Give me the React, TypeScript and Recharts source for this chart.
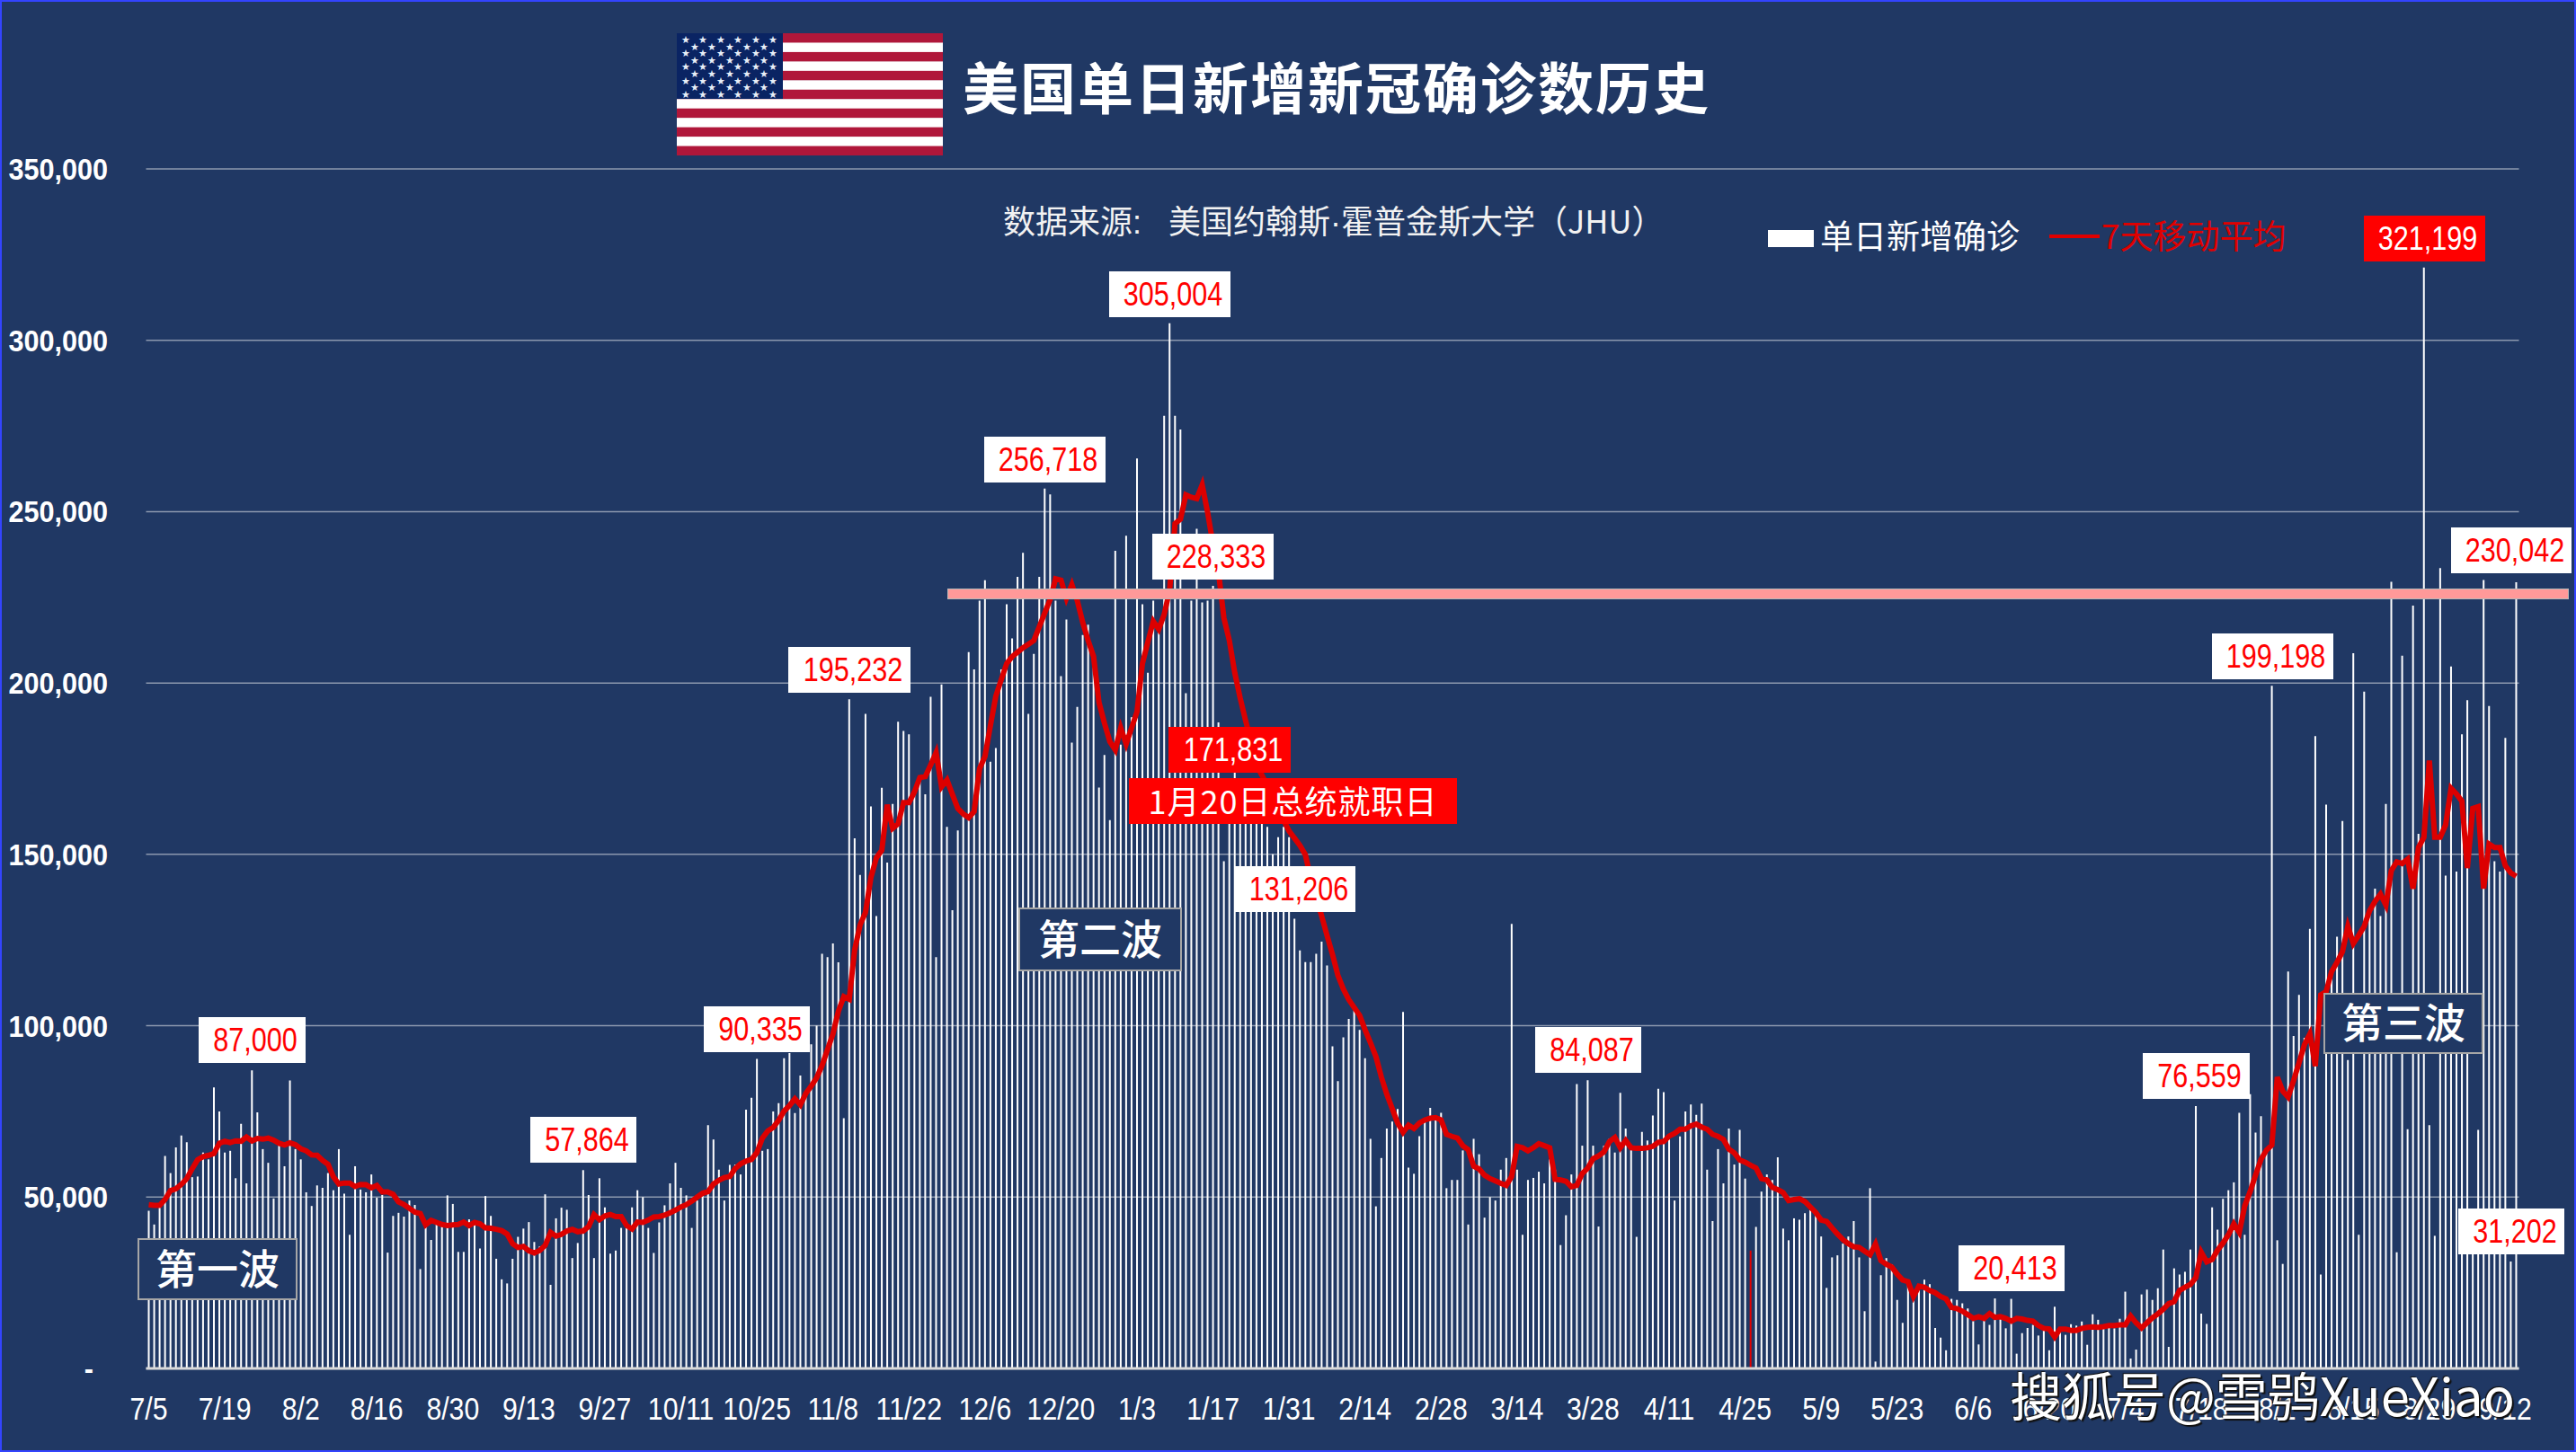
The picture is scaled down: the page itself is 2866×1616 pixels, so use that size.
import { Bar, CartesianGrid, Cell, ComposedChart, Line, XAxis, YAxis } from 'recharts';

// Values, in thousands of cases per day
const dailyK = [
  46, 42, 47, 62, 57, 64.5, 68, 66, 55.8, 56, 63, 61, 82, 75, 63, 63.5, 55.5, 71.4, 54, 87,
  74.7, 64, 60, 49.6, 65, 59, 84, 64, 61, 51.4, 47.4, 53.4, 52.7, 57, 52, 64, 51, 39, 59, 52.2,
  51.4, 56.6, 49.8, 50.6, 33.8, 44.5, 45.4, 44.3, 49, 47.7, 29, 42, 37.5, 43, 42, 50.5, 48, 34, 34, 43.5,
  42.7, 35, 50.3, 44.5, 32, 26, 24.8, 32, 38.4, 40.8, 42.7, 36.9, 35.6, 50.8, 24.4, 43.8, 46.9, 46.3, 32.2, 36.6,
  57.864, 50.6, 32.2, 55.5, 47, 33.5, 34.4, 41, 41, 47, 52, 50, 41, 33.7, 42.6, 47.6, 54, 60, 52.7, 50.5,
  41, 49, 50.7, 71, 66.8, 58, 49, 59.4, 59.5, 56.6, 75.5, 79, 90.335, 63.5, 64, 75, 77.4, 90.5, 92, 74.5,
  85.5, 81, 94.6, 100, 121, 120, 124, 118.5, 73, 195.232, 154.7, 144, 191, 164, 132, 169.4, 147.6, 164.7, 188.7, 186,
  185, 169, 172.6, 167.5, 196, 120, 199.6, 158, 133.7, 157, 161.5, 209, 204, 224, 230, 177, 181, 204, 223, 213,
  231, 238, 191, 208.5, 231, 256.718, 255, 224, 202, 218.5, 182.6, 193, 214, 217, 209, 169.5, 179, 160, 238.6, 182,
  243, 190, 265.5, 223, 203, 224, 216, 278, 305.004, 278, 274, 197, 224, 245, 223.5, 224, 228.333, 188.5, 148, 172,
  176, 171.831, 168, 160, 165, 160, 158, 150, 155, 158, 155, 131.206, 122, 118.6, 118.6, 121, 124.5, 117.6, 94, 83.8,
  96.6, 102, 104.5, 98.8, 90.5, 67, 47.3, 61.4, 70, 72, 75.7, 104, 58.6, 56.8, 67.8, 73, 76, 73, 74.6, 52.6,
  55, 55, 63.6, 42, 67, 62.5, 44, 50, 49, 58, 61.4, 129.7, 58, 39, 55, 55.6, 57.4, 54, 61, 58,
  36, 44.7, 56.6, 83, 65, 84.087, 65, 41.4, 65, 67, 63, 80.4, 70, 64.5, 38.4, 69, 66.5, 73.8, 81.6, 80.6,
  66.8, 49, 67.7, 75, 77, 74, 77.3, 58, 43, 64, 54, 70, 59.5, 69.6, 55.4, 34.4, 41.3, 51.6, 56.6, 55,
  61.6, 40.8, 37.4, 43.8, 43.4, 45.3, 46.2, 44.6, 38.5, 23.5, 32.4, 33, 36.4, 38.5, 43, 32.4, 16.7, 52.6, 2, 27.2,
  32.2, 30.4, 20, 13.3, 25.6, 22.5, 24.3, 25.9, 24.6, 11.8, 9, 5.3, 20.3, 20, 19, 17.5, 13.8, 7, 15.5, 12.7,
  20.413, 15.5, 11.7, 20.3, 4.3, 10.3, 11.8, 12.7, 9.6, 11.1, 5.3, 18, 11, 9.8, 12.9, 12.5, 13.7, 6.9, 15.8, 14.2,
  12, 12, 11.7, 14.5, 22.4, 2.9, 5.5, 21.6, 23, 20, 23.4, 34.7, 6.3, 29.2, 27.4, 28.2, 34.7, 76.559, 16, 13,
  47, 40.5, 49.5, 52, 54.3, 74.6, 39, 80, 68.8, 73.6, 63, 199.198, 37.4, 30.5, 115.8, 97, 109, 96.5, 128.3, 184.5,
  27.4, 164.5, 116, 126, 159.7, 90, 208.7, 39, 197.5, 133, 140, 132, 164.7, 229.5, 33.9, 208, 69.8, 222.6, 156, 321.199,
  71, 38.7, 233.5, 143.8, 204.8, 145, 185, 195, 36, 69.6, 230.042, 193.3, 148, 145, 184, 31.202, 229.4,
];

const averageK = [
  47.8, 47.6, 47.6, 49.3, 51.9, 52.4, 53.7, 55.4, 58.3, 60.9, 61.8, 62.2, 62.7, 65.7, 66.3, 65.9, 66.4, 66.3, 67.5, 66.4,
  67.1, 66.9, 67.2, 66.6, 65.7, 65.2, 65.8, 65.3, 64.1, 63.5, 62.3, 62.2, 60.7, 59.6, 55.9, 53.8, 54.1, 54.1, 53.1, 53.7,
  53.6, 52.7, 53.4, 51.5, 51.5, 50.8, 48.6, 47.8, 46.7, 45.6, 45.2, 41.9, 43.2, 42.6, 42, 41.7, 41.9, 42, 42.7, 41.7,
  42.6, 42.2, 41, 40.9, 40.6, 40.2, 39.2, 36.4, 35.3, 35.6, 34.3, 33.7, 34.4, 35.9, 39.7, 38.6, 39.1, 40.1, 40.6, 39.9,
  40.1, 41.4, 44.9, 43.4, 44.5, 44.9, 44.3, 44.3, 41.7, 40.7, 42.7, 42.6, 43.3, 44.2, 44.3, 44.7, 45.4, 46.2, 47.1, 47.8,
  48.8, 50, 51.1, 51.6, 53.8, 54.9, 55.7, 56, 58.3, 59.7, 60.5, 61, 63, 67.2, 69.3, 70.3, 72.4, 75.1, 76.7, 78.7,
  76.9, 80.2, 82.4, 84.8, 88.4, 93, 97.6, 104.2, 108.5, 107.7, 122.1, 129.4, 133.1, 143.3, 149, 151.2, 164.5, 157.6, 158.9, 165.1,
  165.1, 168.2, 172.4, 172.7, 176.1, 179.7, 169.7, 171.7, 167.5, 163.4, 161.8, 160.7, 162.5, 175, 178.6, 187.6, 196.2, 201, 205.7, 207.7,
  209, 210.3, 211.3, 212.4, 216.4, 220.4, 224.4, 230.4, 230, 224.7, 228.7, 224, 217.7, 212.4, 207.7, 194.3, 188.3, 182.9, 180.5, 186.9,
  182.2, 186.9, 191.6, 205.7, 212, 218, 215.7, 220, 227, 246.5, 247.8, 254.9, 254.2, 253.8, 257.8, 249.8, 240.4, 232.4, 219, 212.4,
  203, 195.6, 189, 183, 176, 173.1, 170, 166.9, 164, 160, 156.8, 154.7, 152.6, 149.9, 143, 137.5, 132, 126.3, 120.8, 114.7,
  110.7, 107.6, 105.3, 103, 98.8, 95, 91, 85, 80, 75.8, 71.6, 68.9, 71, 70, 71.6, 72.5, 73, 73.2, 72.5, 68.3,
  67.7, 67.2, 65, 63.8, 59, 58.2, 56.4, 55.4, 54.7, 54, 53.4, 56, 64.8, 64.4, 63.5, 64.4, 65.6, 65, 64.4, 55.2,
  55, 54.6, 53, 53.4, 56.9, 58.4, 61.2, 62, 63.2, 66.2, 67.4, 64.4, 66.5, 64.4, 64.2, 64.2, 64.4, 64.8, 66, 66.2,
  67.8, 68.6, 69.8, 69.8, 70.8, 71.3, 70.4, 69.8, 68.3, 67.7, 66.8, 64, 62.9, 60.8, 60.2, 59.3, 58.5, 55.4, 55, 52.8,
  52.2, 51.3, 49, 49.3, 49.5, 48.7, 47.1, 45.5, 43.3, 42.9, 41, 39.2, 37.6, 36.4, 35.5, 35.3, 34.2, 33.2, 36.3, 31.5,
  30.4, 29.6, 27.5, 25.8, 25.3, 21, 24, 23.7, 22.7, 22.1, 21, 20.3, 17.8, 17.5, 16.7, 15.7, 14.6, 15.1, 14.6, 16,
  14.9, 15.1, 14.6, 13.8, 14.6, 14.4, 14, 13.8, 12.5, 11.7, 11.5, 9.2, 11.5, 11.5, 11.1, 11.1, 11.7, 12, 12.1, 12,
  12.2, 12.5, 12.5, 12.7, 12.7, 15.3, 13.3, 11.8, 13.3, 14.8, 15.9, 17.3, 18.9, 19.5, 22.8, 23.7, 24.5, 26.5, 33.9, 31.1,
  31.8, 34.5, 36.6, 39, 42.2, 39.7, 47.4, 51.6, 56.4, 61, 63.7, 65.2, 85, 80.9, 79.2, 84, 89.2, 94.5, 97.6, 88.2,
  109, 110, 115.8, 118.5, 121.6, 129, 124, 126.4, 129, 133.6, 136.3, 138.4, 135.2, 145.3, 147.8, 147.3, 148.6, 140, 152, 155,
  177.4, 155, 155, 158.6, 169.3, 167.6, 165.5, 146, 163.4, 163.9, 140, 153, 152, 152, 146.7, 144.6, 143.6,
];

const tickLabels = [
  '7/5', '7/19', '8/2', '8/16', '8/30', '9/13', '9/27', '10/11', '10/25', '11/8', '11/22', '12/6', '12/20', '1/3', '1/17', '1/31',
  '2/14', '2/28', '3/14', '3/28', '4/11', '4/25', '5/9', '5/23', '6/6', '6/20', '7/4', '7/18', '8/1', '8/15', '8/29', '9/12',
];

const yTicks = [0, 50000, 100000, 150000, 200000, 250000, 300000, 350000];
const redBarDay = 295;

const chartData = dailyK.map((v, i) => ({
  day: i,
  daily: v * 1000,
  average: averageK[i] * 1000,
}));

const ARIAL = '"Liberation Sans", Arial, sans-serif';
const CJK = '"Noto Sans CJK SC", sans-serif';

const XTick = ({ x, y, payload }: any) => (
  <text
    transform={`translate(${x} ${y + 49}) scale(0.84 1)`}
    textAnchor="middle"
    fill="#fff"
    fontFamily={ARIAL}
    fontSize={36}
  >
    {tickLabels[payload.value / 14]}
  </text>
);

const YTick = ({ y, payload }: any) => (
  <text
    transform={`translate(${payload.value === 0 ? 104 : 120} ${y + 12}) scale(0.9 1)`}
    textAnchor="end"
    fill="#fff"
    fontFamily={ARIAL}
    fontWeight="bold"
    fontSize={34}
  >
    {payload.value === 0 ? '-' : payload.value.toLocaleString('en-US')}
  </text>
);

const Callout = ({ left, top, right, bottom, text, alert }: any) => (
  <div
    style={{
      position: 'absolute',
      left,
      top,
      width: right - left,
      height: bottom - top,
      background: alert ? '#FF0000' : '#fff',
      color: alert ? '#fff' : '#FF0000',
      fontFamily: ARIAL,
      fontSize: 36,
      lineHeight: `${bottom - top}px`,
      textAlign: 'center',
    }}
  >
    <span style={{ display: 'inline-block', transform: 'translateX(4px) scaleX(0.85)' }}>{text}</span>
  </div>
);

const WaveBox = ({ left, top, right, bottom, text }: any) => (
  <div
    style={{
      position: 'absolute',
      left,
      top,
      width: right - left,
      height: bottom - top,
      boxSizing: 'border-box',
      border: '2px solid #A6A6A6',
      background: '#203864',
      color: '#fff',
      fontFamily: CJK,
      fontWeight: 500,
      fontSize: 46,
      lineHeight: `${bottom - top - 11}px`,
      textAlign: 'center',
    }}
  >
    {text}
  </div>
);

const Flag = () => {
  const stars: any[] = [];
  for (let row = 0; row < 9; row++) {
    const count = row % 2 === 0 ? 6 : 5;
    for (let col = 0; col < count; col++) {
      stars.push(
        <text key={`${row}-${col}`} x={10 + col * 19.4 + (row % 2 ? 9.7 : 0)} y={11 + row * 7.6} fill="#E8EEF8" fontSize={11} textAnchor="middle">
          ★
        </text>,
      );
    }
  }
  return (
    <svg width={296} height={136} style={{ position: 'absolute', left: 753, top: 37 }}>
      {Array.from({ length: 13 }, (_, i) => (
        <rect key={i} x={0} y={(i * 136) / 13} width={296} height={136 / 13 + 0.5} fill={i % 2 ? '#FFFFFF' : '#B0173A'} />
      ))}
      <rect x={0} y={0} width={118} height={73} fill="#0A2463" />
      {stars}
    </svg>
  );
};

export default function App() {
  return (
    <div
      style={{
        position: 'relative',
        width: 2866,
        height: 1616,
        boxSizing: 'border-box',
        overflow: 'hidden',
        background: '#203864',
      }}
    >
      <style>{'body{margin:0;background:#203864}'}</style>

      <div style={{ position: 'absolute', left: 0, top: 0 }}>
        <ComposedChart
          width={2866}
          height={1616}
          data={chartData}
          margin={{ top: 188, right: 63.5, bottom: 0, left: 0 }}
          barCategoryGap={0}
        >
          <CartesianGrid vertical={false} stroke="#8C98AE" strokeWidth={1.5} />
          <XAxis
            dataKey="day"
            type="category"
            interval={13}
            height={93}
            tickLine={false}
            stroke="#D9D9D9"
            strokeWidth={3}
            tick={<XTick />}
          />
          <YAxis domain={[0, 350000]} ticks={yTicks} width={162.5} axisLine={false} tickLine={false} tick={<YTick />} />
          <Bar dataKey="daily" fill="#FFFFFF" barSize={2} isAnimationActive={false}>
            {chartData.map((d) => (
              <Cell key={d.day} fill={d.day === redBarDay ? '#E00000' : '#FFFFFF'} />
            ))}
          </Bar>
          <Line
            dataKey="average"
            type="linear"
            stroke="#DC0000"
            strokeWidth={6}
            dot={false}
            activeDot={false}
            isAnimationActive={false}
          />
        </ComposedChart>
      </div>

      <Flag />
      <div
        style={{
          position: 'absolute',
          left: 1071,
          top: 55,
          color: '#fff',
          fontFamily: CJK,
          fontWeight: 700,
          fontSize: 62,
          letterSpacing: 2,
          lineHeight: '80px',
          whiteSpace: 'nowrap',
        }}
      >
        美国单日新增新冠确诊数历史
      </div>
      <div
        style={{
          position: 'absolute',
          left: 1116,
          top: 222,
          color: '#F2F2F2',
          fontFamily: CJK,
          fontSize: 36,
          lineHeight: '44px',
          whiteSpace: 'nowrap',
        }}
      >
        数据来源<span style={{ fontFamily: ARIAL, marginRight: 30 }}>:</span>美国约翰斯<span style={{ fontFamily: ARIAL }}>·</span>霍普金斯大学（JHU）
      </div>

      {/* legend */}
      <div style={{ position: 'absolute', left: 1967, top: 256, width: 51, height: 19, background: '#fff' }} />
      <div style={{ position: 'absolute', left: 2025, top: 238, color: '#fff', fontFamily: CJK, fontSize: 37, lineHeight: '46px', whiteSpace: 'nowrap' }}>
        单日新增确诊
      </div>
      <div style={{ position: 'absolute', left: 2280, top: 261, width: 56, height: 4, background: '#E00000' }} />
      <div style={{ position: 'absolute', left: 2338, top: 238, color: '#E00000', fontFamily: CJK, fontSize: 37, lineHeight: '46px', whiteSpace: 'nowrap' }}>
        7天移动平均
      </div>

      {/* threshold band */}
      <div
        style={{
          position: 'absolute',
          left: 1055,
          top: 656,
          width: 1802,
          height: 10,
          background: '#FF9999',
          boxShadow: '0 0 0 1px #B8B8B8',
        }}
      />

      <Callout left={221} top={1132} right={340} bottom={1183} text="87,000" />
      <Callout left={590} top={1243} right={708} bottom={1294} text="57,864" />
      <Callout left={783} top={1120} right={901} bottom={1171} text="90,335" />
      <Callout left={877} top={720} right={1013} bottom={771} text="195,232" />
      <Callout left={1095} top={486} right={1230} bottom={537} text="256,718" />
      <Callout left={1234} top={302} right={1369} bottom={353} text="305,004" />
      <Callout left={1282} top={594} right={1417} bottom={645} text="228,333" />
      <Callout left={1300} top={809} right={1436} bottom={860} text="171,831" alert />
      <div
        style={{
          position: 'absolute',
          left: 1256,
          top: 866,
          width: 365,
          height: 51,
          background: '#FF0000',
          color: '#fff',
          fontFamily: CJK,
          fontSize: 36,
          letterSpacing: 1,
          lineHeight: '48px',
          textAlign: 'center',
          whiteSpace: 'nowrap',
        }}
      >
        1月20日总统就职日
      </div>
      <Callout left={1374} top={964} right={1508} bottom={1015} text="131,206" />
      <Callout left={1708} top={1143} right={1826} bottom={1194} text="84,087" />
      <Callout left={2179} top={1386} right={2297} bottom={1437} text="20,413" />
      <Callout left={2384} top={1172} right={2503} bottom={1223} text="76,559" />
      <Callout left={2461} top={705} right={2596} bottom={756} text="199,198" />
      <Callout left={2630} top={240} right={2765} bottom={291} text="321,199" alert />
      <Callout left={2727} top={587} right={2861} bottom={638} text="230,042" />
      <Callout left={2735} top={1345} right={2853} bottom={1396} text="31,202" />

      <WaveBox left={153} top={1378} right={331} bottom={1447} text="第一波" />
      <WaveBox left={1133} top={1010} right={1315} bottom={1081} text="第二波" />
      <WaveBox left={2585} top={1105} right={2763} bottom={1173} text="第三波" />

      <div
        style={{
          position: 'absolute',
          left: 2236,
          top: 1516,
          color: '#fff',
          fontFamily: CJK,
          fontSize: 58,
          lineHeight: '70px',
          whiteSpace: 'nowrap',
          textShadow: '2px 2px 1px #111, -1px -1px 1px #111',
        }}
      >
        搜狐号@雪鸮XueXiao
      </div>

      {/* blue frame */}
      <div style={{ position: 'absolute', inset: 0, border: '2px solid #3344FF', boxSizing: 'border-box', pointerEvents: 'none' }} />
    </div>
  );
}
